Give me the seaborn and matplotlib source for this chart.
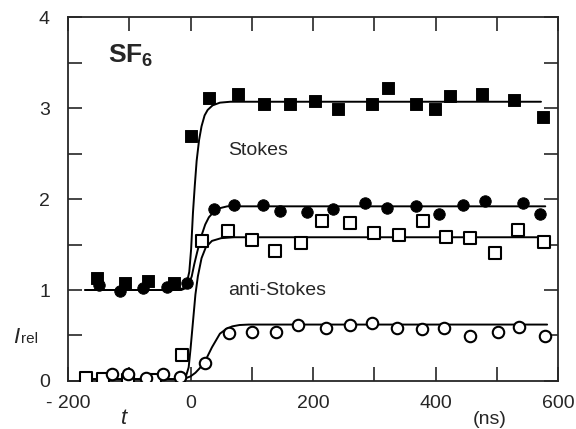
import seaborn as sns
import pandas as pd
import matplotlib.pyplot as plt

# measured points (t in ns, relative intensity)
stokes_sq_t = [-153, -107, -69, -27, 0, 30, 78, 120, 162, 203, 241, 296, 323, 368, 399, 423, 476, 528, 575]
stokes_sq_i = [1.13, 1.08, 1.10, 1.08, 2.69, 3.11, 3.16, 3.04, 3.04, 3.08, 2.99, 3.04, 3.22, 3.04, 2.99, 3.13, 3.16, 3.09, 2.90]

stokes_ci_t = [-150, -115, -78, -39, -6, 38, 71, 118, 146, 190, 233, 284, 321, 368, 406, 444, 480, 543, 571]
stokes_ci_i = [1.05, 0.99, 1.02, 1.03, 1.08, 1.89, 1.94, 1.93, 1.87, 1.86, 1.89, 1.96, 1.90, 1.92, 1.84, 1.94, 1.98, 1.96, 1.84]

anti_sq_t = [-170, -143, -102, -58, -14, 19, 61, 100, 138, 180, 215, 261, 300, 340, 380, 417, 456, 497, 535, 577]
anti_sq_i = [0.03, 0.02, 0.01, 0.01, 0.29, 1.54, 1.65, 1.55, 1.43, 1.52, 1.76, 1.74, 1.63, 1.60, 1.76, 1.58, 1.57, 1.41, 1.66, 1.53]

anti_ci_t = [-128, -102, -73, -45, -17, 24, 63, 101, 140, 175, 221, 261, 296, 337, 378, 414, 456, 502, 536, 579]
anti_ci_i = [0.08, 0.08, 0.03, 0.08, 0.04, 0.20, 0.53, 0.54, 0.54, 0.62, 0.58, 0.62, 0.64, 0.58, 0.57, 0.58, 0.49, 0.54, 0.59, 0.49]

# fitted curves
fit_sq_t = [-172, -20, -12, -6, -2, 1, 4, 7, 10, 14, 18, 23, 28, 36, 48, 65, 572]
fit_sq_i = [1.0, 1.0, 1.02, 1.08, 1.2, 1.45, 1.85, 2.15, 2.42, 2.65, 2.8, 2.92, 2.98, 3.03, 3.06, 3.07, 3.07]

fit_ci_t = [-172, -15, -8, -3, 2, 6, 11, 18, 24, 30, 38, 48, 60, 80, 579]
fit_ci_i = [1.0, 1.0, 1.02, 1.06, 1.15, 1.28, 1.42, 1.6, 1.72, 1.8, 1.86, 1.9, 1.92, 1.92, 1.92]

fit_asq_t = [-180, -15, -8, -3, 0, 4, 8, 12, 18, 25, 35, 50, 70, 582]
fit_asq_i = [0.02, 0.02, 0.04, 0.15, 0.35, 0.65, 0.95, 1.15, 1.35, 1.47, 1.54, 1.57, 1.58, 1.58]

fit_aci_t = [-180, -20, -8, 0, 8, 15, 24, 35, 48, 58, 68, 80, 95, 582]
fit_aci_i = [0.02, 0.02, 0.03, 0.05, 0.09, 0.14, 0.22, 0.37, 0.52, 0.57, 0.6, 0.615, 0.62, 0.62]

sns.set_style('ticks')
plt.rcParams['font.family'] = ['Liberation Sans', 'DejaVu Sans']
plt.rcParams['mathtext.fontset'] = 'custom'
plt.rcParams['mathtext.bf'] = 'Liberation Sans:bold'
plt.rcParams['mathtext.it'] = 'Liberation Sans:italic'
plt.rcParams['mathtext.rm'] = 'Liberation Sans'

fig = plt.figure(figsize=(5.76, 4.29), dpi=100)
ax = fig.add_axes([0.118, 0.112, 0.851, 0.848])

for t, i in [(fit_sq_t, fit_sq_i), (fit_ci_t, fit_ci_i), (fit_asq_t, fit_asq_i), (fit_aci_t, fit_aci_i)]:
    sns.lineplot(x=t, y=i, ax=ax, color='black', linewidth=1.4, estimator=None, sort=False)

ms = 68
sns.scatterplot(x=stokes_sq_t, y=stokes_sq_i, ax=ax, marker='s', s=ms, color='black', edgecolor='black', zorder=3)
sns.scatterplot(x=stokes_ci_t, y=stokes_ci_i, ax=ax, marker='o', s=ms, color='black', edgecolor='black', zorder=3)
sns.scatterplot(x=anti_sq_t, y=anti_sq_i, ax=ax, marker='s', s=ms, facecolor='white', edgecolor='black', linewidth=1.5, zorder=3)
sns.scatterplot(x=anti_ci_t, y=anti_ci_i, ax=ax, marker='o', s=ms, facecolor='white', edgecolor='black', linewidth=1.5, zorder=3)

ax.set_xlim(-200, 600)
ax.set_ylim(0, 4)
ax.set_xticks([-200, -100, 0, 100, 200, 300, 400, 500, 600])
ax.set_xticklabels(['- 200', '', '0', '', '200', '', '400', '', '600'])
ax.set_yticks([0, 0.5, 1, 1.5, 2, 2.5, 3, 3.5, 4])
ax.set_yticklabels(['0', '', '1', '', '2', '', '3', '', '4'])
ax.tick_params(which='both', direction='in', length=10, width=1.2, top=True, right=True, labelsize=14)
ax.tick_params(axis='x', pad=10)
ax.tick_params(axis='y', pad=13)
for sp in ax.spines.values():
    sp.set_linewidth(1.3)

ax.text(-135, 3.5, r'$\mathbf{SF_6}$', fontsize=19)
ax.text(61, 2.48, 'Stokes', fontsize=14)
ax.text(61, 0.945, 'anti-Stokes', fontsize=14)
fig.text(0.022, 0.2, r'$\mathit{I}$', fontsize=16)
fig.text(0.036, 0.2, 'rel', fontsize=11)
fig.text(0.208, 0.012, r'$\mathit{t}$', fontsize=16)
fig.text(0.82, 0.012, '(ns)', fontsize=14)

plt.savefig('out.png', dpi=100)
